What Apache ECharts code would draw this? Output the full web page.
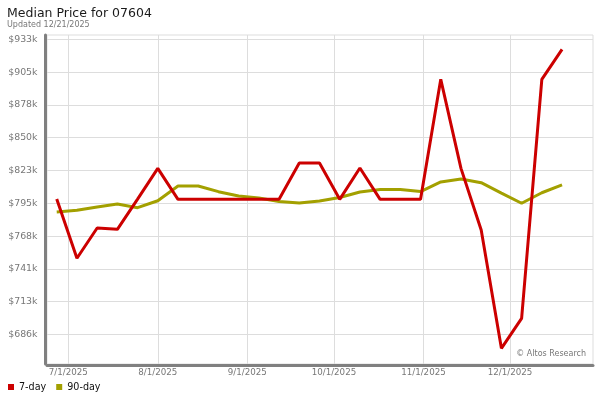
<!DOCTYPE html>
<html><head><meta charset="utf-8">
<script src="https://cdn.jsdelivr.net/npm/echarts@6/dist/echarts.min.js"></script>
<style>html,body{margin:0;padding:0;background:#fff}#c{width:600px;height:400px}</style>
</head><body><div id="c"></div>
<script>
// Weekly observation dates
const dates = ['2025-06-27','2025-07-04','2025-07-11','2025-07-18','2025-07-25','2025-08-01','2025-08-08','2025-08-15','2025-08-22','2025-08-29','2025-09-05','2025-09-12','2025-09-19','2025-09-26','2025-10-03','2025-10-10','2025-10-17','2025-10-24','2025-10-31','2025-11-07','2025-11-14','2025-11-21','2025-11-28','2025-12-05','2025-12-12','2025-12-19'];
// Median price, thousands of dollars
const sevenDay = [799, 749.5, 774.8, 773.7, 799, 824.7, 798.8, 798.8, 798.8, 798.8, 798.8, 798.8, 829.2, 829.2, 798.8, 825.0, 798.8, 798.8, 798.8, 899.1, 824.7, 773.1, 674.2, 699.3, 899.1, 924.2];
const ninetyDay = [788.2, 789.6, 792.4, 794.9, 791.8, 797.6, 809.9, 809.9, 805.2, 801.6, 799.9, 797.0, 795.7, 797.4, 800.3, 804.9, 807.0, 807.0, 805.3, 813.3, 815.8, 812.7, 804.0, 795.5, 804.3, 810.8];
// Axis ticks
const yTickValues = [685.8, 713.22, 740.64, 768.06, 795.48, 822.9, 850.32, 877.74, 905.16, 932.58];
const yTickLabels = ['$686k','$713k','$741k','$768k','$795k','$823k','$850k','$878k','$905k','$933k'];
const xTickDates = ['2025-07-01','2025-08-01','2025-09-01','2025-10-01','2025-11-01','2025-12-01'];
const xTickLabels = ['7/1/2025','8/1/2025','9/1/2025','10/1/2025','11/1/2025','12/1/2025'];

const DAY = 86400000;
function ts(s){ const p = s.split('-').map(Number); return Date.UTC(p[0], p[1]-1, p[2]); }
const xTickValues = xTickDates.map(ts);
const xMin = ts('2025-06-23') + 0.63*DAY;
const xMax = ts('2025-12-29') + 0.72*DAY;

const font = 'DejaVu Sans';
const chart = echarts.init(document.getElementById('c'), null, {renderer:'canvas'});
chart.setOption({
  animation: false,
  backgroundColor: '#fff',
  textStyle: {fontFamily: font},
  grid: {left: 47, right: 7, top: 35, bottom: 36, show: true, borderColor: '#dddddd', borderWidth: 1, containLabel: false},
  graphic: [
    {type:'text', left: 7, top: 7, style:{text:'Median Price for 07604', font:'12.5px "DejaVu Sans"', fill:'#1a1a1a'}},
    {type:'text', left: 7, top: 21, style:{text:'Updated 12/21/2025', font:'8px "DejaVu Sans"', fill:'#777'}},
    {type:'text', right: 14, top: 350, z: 10, style:{text:'\u00A9 Altos Research', font:'8px "DejaVu Sans"', fill:'#777'}}
  ],
  legend: {
    left: 3, top: 377, icon: 'rect', itemWidth: 6, itemHeight: 6, itemGap: 10,
    textStyle: {fontFamily: font, fontSize: 9.6, color: '#111'},
    data: ['7-day','90-day']
  },
  xAxis: {
    type: 'value', min: xMin, max: xMax, offset: 1.5,
    axisLine: {show: true, lineStyle: {color: '#808080', width: 3}},
    axisTick: {show: false, customValues: xTickValues},
    axisLabel: {customValues: xTickValues, color: '#777', fontSize: 8.7, fontFamily: font, margin: 3,
      formatter: v => { const i = xTickValues.indexOf(v); return i >= 0 ? xTickLabels[i] : ''; }},
    splitLine: {show: true, lineStyle: {color: '#dddddd', width: 1}}
  },
  yAxis: {
    type: 'value', min: 661.1, max: 936.2, offset: 1.5,
    axisLine: {show: true, lineStyle: {color: '#808080', width: 3}},
    axisTick: {show: false, customValues: yTickValues},
    axisLabel: {customValues: yTickValues, color: '#777', fontSize: 9.4, fontFamily: font, margin: 8,
      formatter: v => { const i = yTickValues.indexOf(v); return i >= 0 ? yTickLabels[i] : ''; }},
    splitLine: {show: true, lineStyle: {color: '#dddddd', width: 1}}
  },
  series: [
    {name: '7-day', type: 'line', data: dates.map((d,i)=>[ts(d), sevenDay[i]]), showSymbol: false, symbol: 'none',
      lineStyle: {color: '#cc0000', width: 3}, itemStyle: {color: '#cc0000'}, z: 3},
    {name: '90-day', type: 'line', data: dates.map((d,i)=>[ts(d), ninetyDay[i]]), showSymbol: false, symbol: 'none',
      lineStyle: {color: '#a3a000', width: 3}, itemStyle: {color: '#a3a000'}, z: 2}
  ]
});
</script></body></html>
